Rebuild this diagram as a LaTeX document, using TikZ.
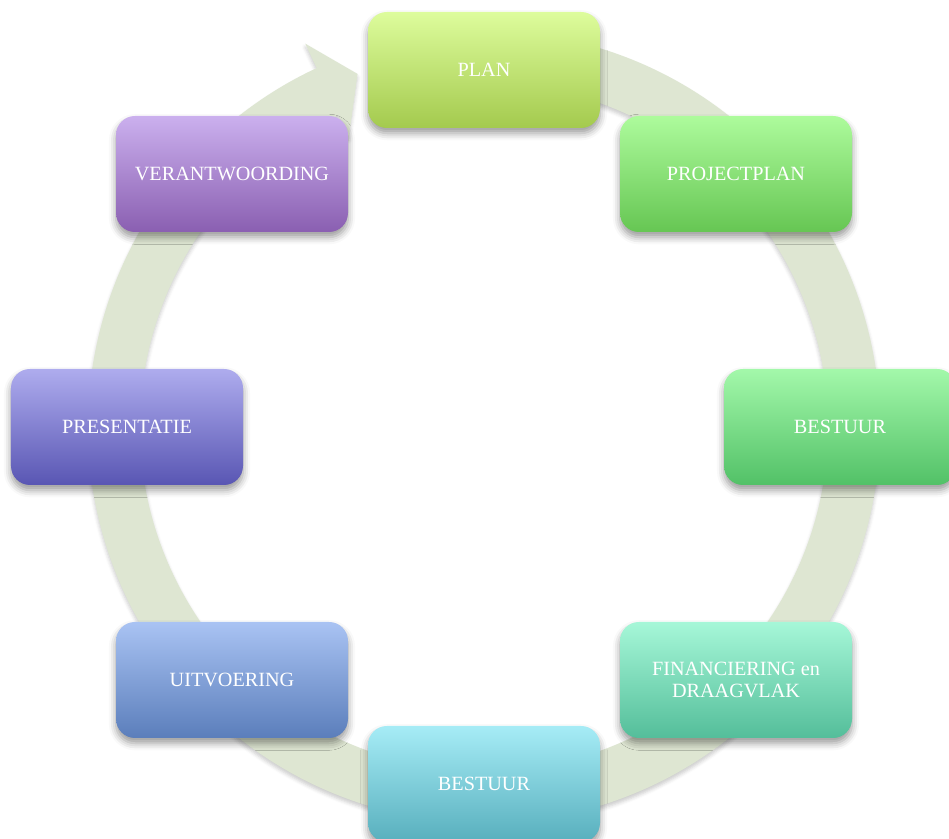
\documentclass[tikz,border=0pt]{standalone}
\usepackage{fontspec}
\setmainfont{Liberation Serif}
\usepackage{xcolor}
\usetikzlibrary{shadows.blur}

\definecolor{bandgreen}{RGB}{222,230,210}

\begin{document}
\begin{tikzpicture}[
    stage/.style={rounded corners=0.38cm, minimum width=4.64cm, minimum height=2.32cm,
        inner sep=0pt, align=center, text=white, font=\fontsize{11.5}{12.5}\selectfont,
        blur shadow={shadow xshift=0pt, shadow yshift=-3pt, shadow blur radius=4pt, shadow opacity=40}},
    band/.style={fill=bandgreen,
        blur shadow={shadow xshift=0pt, shadow yshift=-2pt, shadow blur radius=2pt, shadow opacity=20}}
]

    \clip (0,0) rectangle (18.98,16.78);

    % Cycle arrow behind the boxes
    \begin{scope}[shift={(9.68,8.24)}]
        \fill[band] (88:7.92) arc[start angle=88, end angle=-245, radius=7.92]
            -- (-245:8.46) -- (-250.3:7.5) -- (-245:6.4) -- (-245:6.88)
            arc[start angle=-245, end angle=88, radius=6.88] -- cycle;
    \end{scope}

    % Boxes around the circle
    \node[stage, top color={rgb,255:red,221;green,252;blue,156}, bottom color={rgb,255:red,164;green,202;blue,78}] (plan) at (9.68,15.38) {PLAN};
    \node[stage, top color={rgb,255:red,173;green,251;blue,156}, bottom color={rgb,255:red,102;green,198;blue,83}] (projectplan) at (14.72,13.30) {PROJECTPLAN};
    \node[stage, top color={rgb,255:red,163;green,248;blue,170}, bottom color={rgb,255:red,82;green,193;blue,103}] (bestuurA) at (16.80,8.24) {BESTUUR};
    \node[stage, top color={rgb,255:red,166;green,247;blue,216}, bottom color={rgb,255:red,84;green,190;blue,154}] (financiering) at (14.72,3.18) {FINANCIERING en\\DRAAGVLAK};
    \node[stage, top color={rgb,255:red,166;green,236;blue,246}, bottom color={rgb,255:red,88;green,175;blue,189}] (bestuurB) at (9.68,1.10) {BESTUUR};
    \node[stage, top color={rgb,255:red,169;green,195;blue,243}, bottom color={rgb,255:red,91;green,126;blue,187}] (uitvoering) at (4.64,3.18) {UITVOERING};
    \node[stage, top color={rgb,255:red,174;green,172;blue,238}, bottom color={rgb,255:red,89;green,86;blue,179}] (presentatie) at (2.54,8.24) {PRESENTATIE};
    \node[stage, top color={rgb,255:red,203;green,176;blue,238}, bottom color={rgb,255:red,138;green,95;blue,177}] (verantwoording) at (4.64,13.30) {VERANTWOORDING};

\end{tikzpicture}
\end{document}
